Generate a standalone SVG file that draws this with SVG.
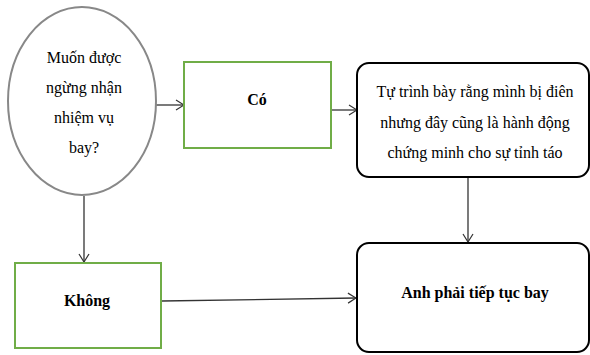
<svg xmlns="http://www.w3.org/2000/svg" width="590" height="355" viewBox="0 0 590 355">
<defs>
<marker id="arr" markerWidth="10" markerHeight="12" refX="9" refY="6" orient="auto" markerUnits="userSpaceOnUse">
<path d="M1,1 L9,6 L1,11" fill="none" stroke="#333" stroke-width="1.2"/>
</marker>
<style>
.t{font-family:"Liberation Serif",serif;font-size:16px;fill:#000;text-anchor:middle;dominant-baseline:central}
.b{font-weight:bold}
.g{fill:#fff;stroke:#70AD47;stroke-width:2}
.r{fill:#fff;stroke:#000;stroke-width:2}
.c{stroke:#333;stroke-width:1.3;fill:none;marker-end:url(#arr)}
</style>
</defs>
<rect width="590" height="355" fill="#fff"/>
<g id="connectors">
<line class="c" x1="156" y1="105" x2="184" y2="105"/>
<line class="c" x1="331" y1="110" x2="357" y2="110" stroke="#555"/>
<line class="c" x1="468" y1="177" x2="468" y2="242"/>
<line class="c" x1="84" y1="196" x2="84" y2="262"/>
<line class="c" x1="162" y1="301" x2="356" y2="298"/>
</g>
<g id="n1">
<ellipse cx="82" cy="101" rx="74" ry="94" fill="#fff" stroke="#888" stroke-width="2"/>
<text class="t" x="84" y="57">Muốn được</text>
<text class="t" x="84" y="87">ngừng nhận</text>
<text class="t" x="84" y="117">nhiệm vụ</text>
<text class="t" x="84" y="147">bay?</text>
</g>
<g id="n2">
<rect class="g" x="184" y="62" width="147" height="86"/>
<text class="t b" x="257" y="99">Có</text>
</g>
<g id="n3">
<rect class="r" x="357" y="63" width="232" height="114" rx="12"/>
<text class="t" x="475" y="91">Tự trình bày rằng mình bị điên</text>
<text class="t" x="475" y="122">nhưng đây cũng là hành động</text>
<text class="t" x="475" y="152">chứng minh cho sự tỉnh táo</text>
</g>
<g id="n4">
<rect class="g" x="15" y="263" width="146" height="85"/>
<text class="t b" x="87" y="300">Không</text>
</g>
<g id="n5">
<rect class="r" x="357" y="243" width="232" height="109" rx="12"/>
<text class="t b" x="475" y="292">Anh phải tiếp tục bay</text>
</g>
</svg>
